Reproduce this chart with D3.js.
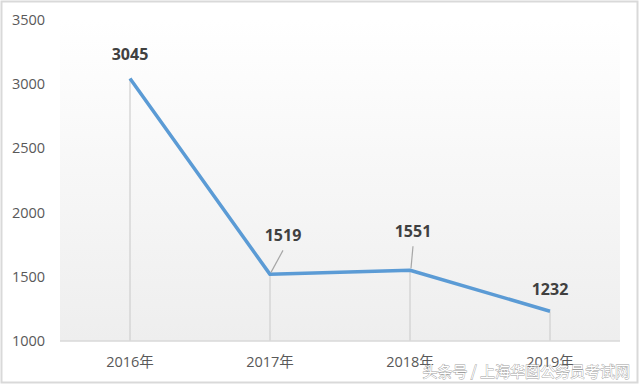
<!DOCTYPE html>
<html><head><meta charset="utf-8">
<script src="https://cdn.jsdelivr.net/npm/d3@7"></script>
<style>body{margin:0;background:#fff}svg{display:block}</style>
</head><body>
<script>
const categories = ["2016年","2017年","2018年","2019年"];
const values = [3045,1519,1551,1232];
const yTicks = [1000,1500,2000,2500,3000,3500];
const watermark = "头条号 / 上海华图公务员考试网";

const W=640,H=385;
const svg=d3.select("body").append("svg").attr("width",W).attr("height",H);
const font="'Open Sans','Noto Sans CJK SC',sans-serif";

// frame
svg.append("rect").attr("x",1.5).attr("y",1.5).attr("width",W-4).attr("height",H-4)
  .attr("fill","#fff").attr("stroke","#d9d9d9").attr("stroke-width",2);

const m={l:60,r:20,t:20,b:44};
const x=d3.scaleBand().domain(categories).range([m.l,W-m.r]);
const y=d3.scaleLinear().domain([1000,3500]).range([H-m.b,m.t]);

const defs=svg.append("defs");
const g=defs.append("linearGradient").attr("id","bg").attr("x1",0).attr("y1",0).attr("x2",0).attr("y2",1);
g.append("stop").attr("offset","0%").attr("stop-color","#ffffff");
g.append("stop").attr("offset","100%").attr("stop-color","#eeeeee");
svg.append("rect").attr("x",m.l).attr("y",y(3500)).attr("width",W-m.r-m.l).attr("height",y(1000)-y(3500)).attr("fill","url(#bg)");

// y labels
svg.append("g").selectAll("text").data(yTicks).join("text")
  .attr("x",12).attr("y",d=>y(d)+5).attr("font-family",font).attr("font-size",14.5)
  .attr("fill","#595959").text(d=>d);

// drop lines
const cx=d=>x(d)+x.bandwidth()/2;
svg.append("g").selectAll("line").data(categories).join("line")
  .attr("x1",cx).attr("x2",cx).attr("y1",(d,i)=>y(values[i])).attr("y2",y(1000))
  .attr("stroke","#cfcfcf").attr("stroke-width",1.2);

// baseline
svg.append("line").attr("x1",m.l).attr("x2",W-m.r).attr("y1",y(1000)).attr("y2",y(1000))
  .attr("stroke","#d9d9d9").attr("stroke-width",1.5);

// x labels
svg.append("g").selectAll("text").data(categories).join("text")
  .attr("x",cx).attr("y",y(1000)+26).attr("text-anchor","middle")
  .attr("font-family",font).attr("font-size",14.5).attr("fill","#595959").text(d=>d);

// line
const line=d3.line().x((d,i)=>cx(categories[i])).y(d=>y(d));
svg.append("path").datum(values).attr("d",line).attr("fill","none")
  .attr("stroke","#5b9bd5").attr("stroke-width",3.5).attr("stroke-linejoin","round");

// labels with offsets
const lab=[{dx:0,dy:-18,leader:false},{dx:13,dy:-33,leader:true},{dx:3,dy:-33,leader:true},{dx:0,dy:-16,leader:false}];
values.forEach((v,i)=>{
  const px=cx(categories[i]),py=y(v),o=lab[i];
  if(o.leader){
    svg.append("line").attr("x1",px+1).attr("y1",py-2).attr("x2",px+o.dx).attr("y2",py+o.dy+9)
      .attr("stroke","#a6a6a6").attr("stroke-width",1.2);
  }
  svg.append("text").attr("x",px+o.dx).attr("y",py+o.dy).attr("text-anchor","middle")
    .attr("font-family",font).attr("font-weight","bold").attr("font-size",16)
    .attr("fill","#404040").text(v);
});

// watermark
svg.append("text").attr("x",630).attr("y",377).attr("text-anchor","end")
  .attr("font-family","'Noto Sans CJK SC',sans-serif").attr("font-size",15)
  .attr("fill","#ffffff").attr("stroke","#8c8c8c").attr("stroke-width",0.8)
  .attr("paint-order","stroke").attr("opacity",0.85).text(watermark);
</script>
</body></html>
